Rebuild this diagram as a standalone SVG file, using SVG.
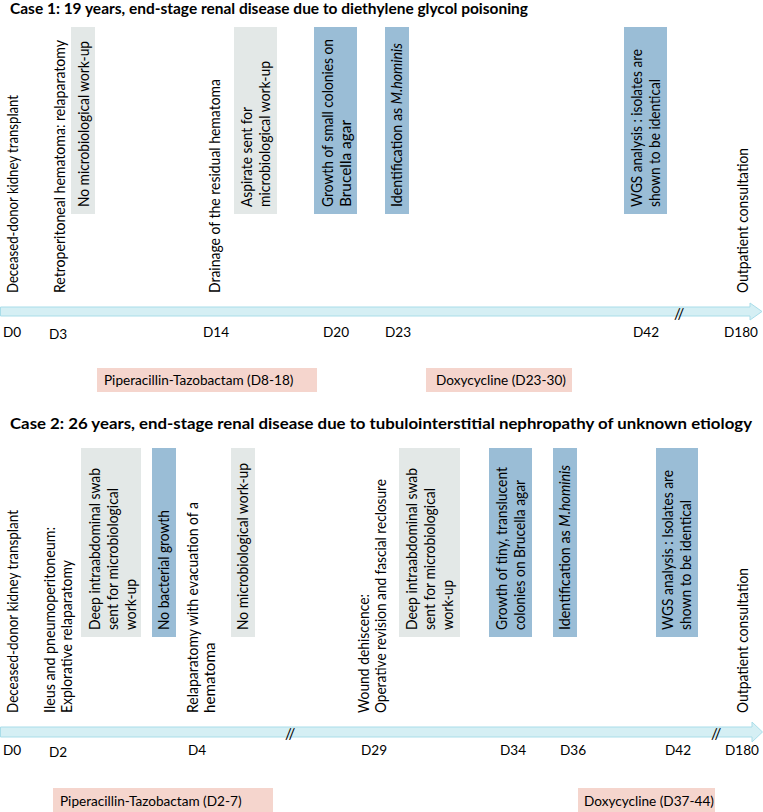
<svg xmlns="http://www.w3.org/2000/svg" width="763" height="812" viewBox="0 0 763 812">
<style>
text{font-family:Lato,"Open Sans","Liberation Sans",sans-serif;font-size:13.6px;fill:#000}
.v{font-size:15.2px}
.title{font-weight:bold;font-size:15px}
.gray{fill:#e3e8e7}
.blue{fill:#9abdd6}
.pink{fill:#f5d5cd}
.bar{fill:#d5eff4;stroke:#a9dde9;stroke-width:1}
</style>
<rect width="763" height="812" fill="#fff"/>
<text class="title" x="10" y="14" textLength="518" lengthAdjust="spacingAndGlyphs">Case 1: 19 years, end-stage renal disease due to diethylene glycol poisoning</text>

<g id="connectors">
<polygon class="bar" points="0.5,307 750,307 750,303 762,311.5 750,320 750,316 0.5,316"/>
<polygon class="bar" points="0.5,727 752,727 752,722 762.5,732 752,742 752,737 0.5,737"/>
<text x="674" y="319" style="font-size:15px">//</text>
<text x="285" y="739" style="font-size:15px">//</text>
<text x="711" y="739" style="font-size:15px">//</text>
</g>

<g id="case1-days">
<text x="3" y="337">D0</text>
<text x="49" y="339">D3</text>
<text x="203" y="337">D14</text>
<text x="323" y="337">D20</text>
<text x="385" y="337">D23</text>
<text x="633" y="337">D42</text>
<text x="724" y="337">D180</text>
</g>

<g id="c1-transplant"><text class="v" transform="translate(17.5,293) rotate(-90)" textLength="198" lengthAdjust="spacingAndGlyphs">Deceased-donor kidney transplant</text></g>
<g id="c1-retro"><text class="v" transform="translate(64.5,293) rotate(-90)" textLength="253" lengthAdjust="spacingAndGlyphs">Retroperitoneal hematoma: relaparatomy</text></g>
<g id="c1-nowork"><rect class="gray" x="71" y="27" width="24" height="187"/><text class="v" transform="translate(88.5,207) rotate(-90)" textLength="166" lengthAdjust="spacingAndGlyphs">No microbiological work-up</text></g>
<g id="c1-drain"><text class="v" transform="translate(219.5,293) rotate(-90)" textLength="214" lengthAdjust="spacingAndGlyphs">Drainage of the residual hematoma</text></g>
<g id="c1-aspirate"><rect class="gray" x="234" y="27" width="43" height="187"/><text class="v" transform="translate(251.5,207) rotate(-90)" textLength="100" lengthAdjust="spacingAndGlyphs">Aspirate sent for</text><text class="v" transform="translate(269.5,207) rotate(-90)" textLength="146" lengthAdjust="spacingAndGlyphs">microbiological work-up</text></g>
<g id="c1-growth"><rect class="blue" x="314" y="27" width="43" height="187"/><text class="v" transform="translate(332.5,207) rotate(-90)" textLength="168" lengthAdjust="spacingAndGlyphs">Growth of small colonies on</text><text class="v" transform="translate(350.5,207) rotate(-90)" textLength="87" lengthAdjust="spacingAndGlyphs">Brucella agar</text></g>
<g id="c1-ident"><rect class="blue" x="385" y="27" width="24" height="187"/><text class="v" transform="translate(401.5,207) rotate(-90)" textLength="164" lengthAdjust="spacingAndGlyphs">Identification as <tspan font-style="italic">M.hominis</tspan></text></g>
<g id="c1-wgs"><rect class="blue" x="624" y="27" width="43" height="187"/><text class="v" transform="translate(642,207) rotate(-90)" textLength="158" lengthAdjust="spacingAndGlyphs">WGS analysis : isolates are</text><text class="v" transform="translate(660,207) rotate(-90)" textLength="128" lengthAdjust="spacingAndGlyphs">shown to be identical</text></g>
<g id="c1-outpatient"><text class="v" transform="translate(747.5,293) rotate(-90)" textLength="145" lengthAdjust="spacingAndGlyphs">Outpatient consultation</text></g>

<g id="c1-pip"><rect class="pink" x="97" y="368" width="220" height="24"/><text x="104" y="385">Piperacillin-Tazobactam (D8-18)</text></g>
<g id="c1-doxy"><rect class="pink" x="426" y="368" width="146" height="24"/><text x="436" y="385">Doxycycline (D23-30)</text></g>

<text class="title" x="10" y="429" style="font-size:16px" textLength="742" lengthAdjust="spacingAndGlyphs">Case 2: 26 years, end-stage renal disease due to tubulointerstitial nephropathy of unknown etiology</text>

<g id="case2-days">
<text x="3" y="755">D0</text>
<text x="49" y="757">D2</text>
<text x="188" y="755">D4</text>
<text x="361" y="755">D29</text>
<text x="500" y="755">D34</text>
<text x="560" y="755">D36</text>
<text x="665" y="755">D42</text>
<text x="725" y="755">D180</text>
</g>

<g id="c2-transplant"><text class="v" transform="translate(17.5,713) rotate(-90)" textLength="203" lengthAdjust="spacingAndGlyphs">Deceased-donor kidney transplant</text></g>
<g id="c2-ileus"><text class="v" transform="translate(54.5,713) rotate(-90)" textLength="186" lengthAdjust="spacingAndGlyphs">Ileus and pneumoperitoneum:</text><text class="v" transform="translate(71.5,713) rotate(-90)" textLength="153" lengthAdjust="spacingAndGlyphs">Explorative relaparatomy</text></g>
<g id="c2-swab1"><rect class="gray" x="81" y="448" width="60" height="189"/><text class="v" transform="translate(99.5,630) rotate(-90)" textLength="162" lengthAdjust="spacingAndGlyphs">Deep intraabdominal swab</text><text class="v" transform="translate(117.5,630) rotate(-90)" textLength="142" lengthAdjust="spacingAndGlyphs">sent for microbiological</text><text class="v" transform="translate(135.5,630) rotate(-90)" textLength="51" lengthAdjust="spacingAndGlyphs">work-up</text></g>
<g id="c2-nogrowth"><rect class="blue" x="152" y="448" width="24" height="189"/><text class="v" transform="translate(168.5,630) rotate(-90)" textLength="120" lengthAdjust="spacingAndGlyphs">No bacterial growth</text></g>
<g id="c2-relap"><text class="v" transform="translate(197.5,713) rotate(-90)" textLength="211" lengthAdjust="spacingAndGlyphs">Relaparatomy with evacuation of a</text><text class="v" transform="translate(214.5,713) rotate(-90)">hematoma</text></g>
<g id="c2-nowork"><rect class="gray" x="231" y="448" width="24" height="189"/><text class="v" transform="translate(247.5,630) rotate(-90)" textLength="167" lengthAdjust="spacingAndGlyphs">No microbiological work-up</text></g>
<g id="c2-wound"><text class="v" transform="translate(368.5,713) rotate(-90)" textLength="119" lengthAdjust="spacingAndGlyphs">Wound dehiscence:</text><text class="v" transform="translate(385.5,713) rotate(-90)" textLength="234" lengthAdjust="spacingAndGlyphs">Operative revision and fascial reclosure</text></g>
<g id="c2-swab2"><rect class="gray" x="399" y="448" width="61" height="189"/><text class="v" transform="translate(416.5,630) rotate(-90)" textLength="162" lengthAdjust="spacingAndGlyphs">Deep intraabdominal swab</text><text class="v" transform="translate(434.5,630) rotate(-90)" textLength="142" lengthAdjust="spacingAndGlyphs">sent for microbiological</text><text class="v" transform="translate(452.5,630) rotate(-90)" textLength="50" lengthAdjust="spacingAndGlyphs">work-up</text></g>
<g id="c2-growth"><rect class="blue" x="489" y="448" width="43" height="189"/><text class="v" transform="translate(506.5,630) rotate(-90)" textLength="163" lengthAdjust="spacingAndGlyphs">Growth of tiny, translucent</text><text class="v" transform="translate(524.5,630) rotate(-90)" textLength="150" lengthAdjust="spacingAndGlyphs">colonies on Brucella agar</text></g>
<g id="c2-ident"><rect class="blue" x="553" y="448" width="24" height="189"/><text class="v" transform="translate(569.5,630) rotate(-90)" textLength="165" lengthAdjust="spacingAndGlyphs">Identification as <tspan font-style="italic">M.hominis</tspan></text></g>
<g id="c2-wgs"><rect class="blue" x="656" y="448" width="42" height="189"/><text class="v" transform="translate(672.5,630) rotate(-90)" textLength="160" lengthAdjust="spacingAndGlyphs">WGS analysis : Isolates are</text><text class="v" transform="translate(690.5,630) rotate(-90)" textLength="130" lengthAdjust="spacingAndGlyphs">shown to be identical</text></g>
<g id="c2-outpatient"><text class="v" transform="translate(747.5,713) rotate(-90)" textLength="145" lengthAdjust="spacingAndGlyphs">Outpatient consultation</text></g>

<g id="c2-pip"><rect class="pink" x="53" y="788" width="220" height="24"/><text x="60" y="806">Piperacillin-Tazobactam (D2-7)</text></g>
<g id="c2-doxy"><rect class="pink" x="578" y="788" width="137" height="24"/><text x="584" y="806">Doxycycline (D37-44)</text></g>
</svg>
